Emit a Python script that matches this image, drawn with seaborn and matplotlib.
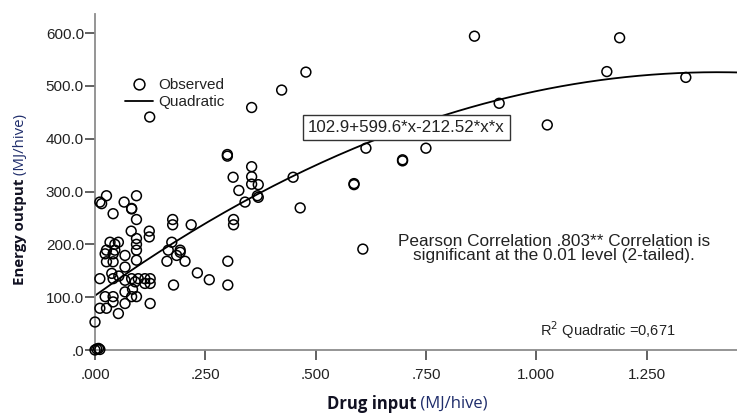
import numpy as np
import pandas as pd
import matplotlib
matplotlib.use("Agg")
import matplotlib.pyplot as plt
import seaborn as sns
from matplotlib.lines import Line2D
from matplotlib.ticker import FixedLocator

# ---- data (MJ/hive) ----
drug_input = [
    0.860, 1.189, 1.160, 1.339, 0.916, 1.025, 0.750, 0.697, 0.697, 0.614,
    0.607, 0.478, 0.423, 0.355, 0.587, 0.587, 0.124, 0.300, 0.300, 0.313,
    0.326, 0.355, 0.355, 0.355, 0.370, 0.368, 0.370, 0.340, 0.449, 0.465,
    0.314, 0.314, 0.301, 0.301, 0.259, 0.232, 0.218, 0.176, 0.176, 0.174,
    0.166, 0.193, 0.185, 0.163, 0.204, 0.178, 0.193,
    0.026, 0.011, 0.041, 0.066, 0.094, 0.083, 0.094, 0.082, 0.123, 0.123,
    0.094, 0.094, 0.094, 0.034, 0.053, 0.026, 0.045, 0.068, 0.023, 0.041,
    0.026, 0.041, 0.094, 0.068, 0.011, 0.041, 0.068, 0.083, 0.098, 0.113,
    0.125, 0.091, 0.113, 0.125, 0.068, 0.023, 0.041, 0.083, 0.094, 0.041,
    0.068, 0.125, 0.011, 0.026, 0.053, 0.000, 0.000, 0.004, 0.008, 0.011,
    0.045, 0.038, 0.054, 0.085, 0.015, 0.083,
]
energy_output = [
    594, 591, 527, 516, 467, 426, 382, 358, 360, 382,
    191, 526, 492, 459, 313, 315, 441, 370, 367, 327,
    302, 347, 328, 314, 313, 292, 289, 280, 327, 269,
    247, 237, 168, 123, 133, 146, 237, 247, 237, 204,
    189, 189, 179, 168, 168, 123, 185,
    292, 280, 258, 280, 292, 268, 247, 225, 225, 214,
    211, 200, 189, 204, 204, 189, 189, 179, 182, 182,
    167, 167, 170, 157, 135, 135, 132, 135, 135, 135,
    135, 129, 126, 126, 110, 101, 101, 101, 101, 91,
    88, 88, 79, 79, 69, 53, 0, 2, 3, 1,
    200, 145, 140, 115, 277, 267,
]
# quadratic fit shown on the chart: 102.9 + 599.6*x - 212.52*x*x
quad_coefs = [102.9, 599.6, -212.52]
x_ticks = [0.0, 0.25, 0.5, 0.75, 1.0, 1.25]
x_tick_labels = [".000", ".250", ".500", ".750", "1.000", "1.250"]
y_ticks = [0, 100, 200, 300, 400, 500, 600]
y_tick_labels = [".0", "100.0", "200.0", "300.0", "400.0", "500.0", "600.0"]

df = pd.DataFrame({"drug": drug_input, "energy": energy_output})
xs = np.linspace(0, 1.46, 200)
fit = pd.DataFrame({"drug": xs,
                    "energy": quad_coefs[0] + quad_coefs[1] * xs + quad_coefs[2] * xs ** 2})

sns.set_theme(style="white")
plt.rcParams["font.family"] = ["Liberation Sans", "DejaVu Sans"]

fig = plt.figure(figsize=(7.37, 4.16), dpi=100)
ax = fig.add_axes([95 / 737, 66 / 416, 642 / 737, 336 / 416])

sns.lineplot(data=fit, x="drug", y="energy", ax=ax, color="black", linewidth=1.3, zorder=2)
sns.scatterplot(data=df, x="drug", y="energy", ax=ax, marker="o", s=50,
                facecolors="none", edgecolor="black", linewidth=1.1, zorder=3,
                clip_on=False)

ax.set_xlim(0, 1.455)
ax.set_ylim(0, 636)
ax.xaxis.set_major_locator(FixedLocator(x_ticks))
ax.set_xticklabels(x_tick_labels)
ax.yaxis.set_major_locator(FixedLocator(y_ticks))
ax.set_yticklabels(y_tick_labels)
ax.set_xlabel("")
ax.set_ylabel("")

for s in ["top", "right"]:
    ax.spines[s].set_visible(False)
for s in ["left", "bottom"]:
    ax.spines[s].set_color("#8c8c8c")
    ax.spines[s].set_linewidth(1.3)
ax.tick_params(axis="both", which="major", direction="out", length=7, width=1.3,
               color="#555555", labelsize=11, labelcolor="#222222",
               bottom=True, left=True)
ax.tick_params(axis="x", pad=6)
ax.tick_params(axis="y", pad=1)

# legend
handles = [
    Line2D([], [], linestyle="none", marker="o", markerfacecolor="none",
           markeredgecolor="black", markersize=7.8, markeredgewidth=1.1),
    Line2D([], [], color="black", linewidth=1.3),
]
ax.legend(handles, ["Observed", "Quadratic"], loc="upper left",
          bbox_to_anchor=(0.026, 0.85), frameon=False, fontsize=11,
          handlelength=1.8, handletextpad=0.35, labelspacing=0.2,
          labelcolor="#222222")

# equation box
ax.text(0.705, 421, "102.9+599.6*x-212.52*x*x", fontsize=12.2, color="#222222",
        ha="center", va="center", zorder=5,
        bbox=dict(boxstyle="square,pad=0.3", facecolor="white",
                  edgecolor="#333333", linewidth=1.0))

# Pearson annotation
ax.text(1.04, 192, "Pearson Correlation .803** Correlation is\nsignificant at the 0.01 level (2-tailed).",
        fontsize=12.4, color="#222222", ha="center", va="center", linespacing=0.95)

# R^2 text
ax.text(1.163, 38, r"R$^2$ Quadratic =0,671", fontsize=10.5, color="#222222",
        ha="center", va="center")

# axis labels: bold part + normal part with different colours
lab_font = ["Open Sans", "DejaVu Sans"]
fig.canvas.draw()
renderer = fig.canvas.get_renderer()

xb = fig.text(0, 12 / 416, "Drug input", fontsize=12, fontweight="bold",
              color="#111122", family=lab_font, ha="left", va="center")
xn = fig.text(0, 12 / 416, " (MJ/hive)", fontsize=12, color="#1f2d6b",
              family=lab_font, ha="left", va="center")
wb = xb.get_window_extent(renderer).width
x0 = 327
xb.set_x(x0 / 737)
xn.set_x((x0 + wb) / 737)

yb = fig.text(0, 0, "Energy output", fontsize=10.8, fontweight="bold",
              color="#111122", family=lab_font, rotation=90,
              ha="left", va="baseline", rotation_mode="anchor")
yn = fig.text(0, 0, " (MJ/hive)", fontsize=10.8, color="#1f2d6b",
              family=lab_font, rotation=90,
              ha="left", va="baseline", rotation_mode="anchor")
hb = yb.get_window_extent(renderer).height
y0 = 416 - 285
yb.set_position((24 / 737, y0 / 416))
yn.set_position((24 / 737, (y0 + hb) / 416))

fig.savefig("out.png", dpi=100, facecolor="white")
